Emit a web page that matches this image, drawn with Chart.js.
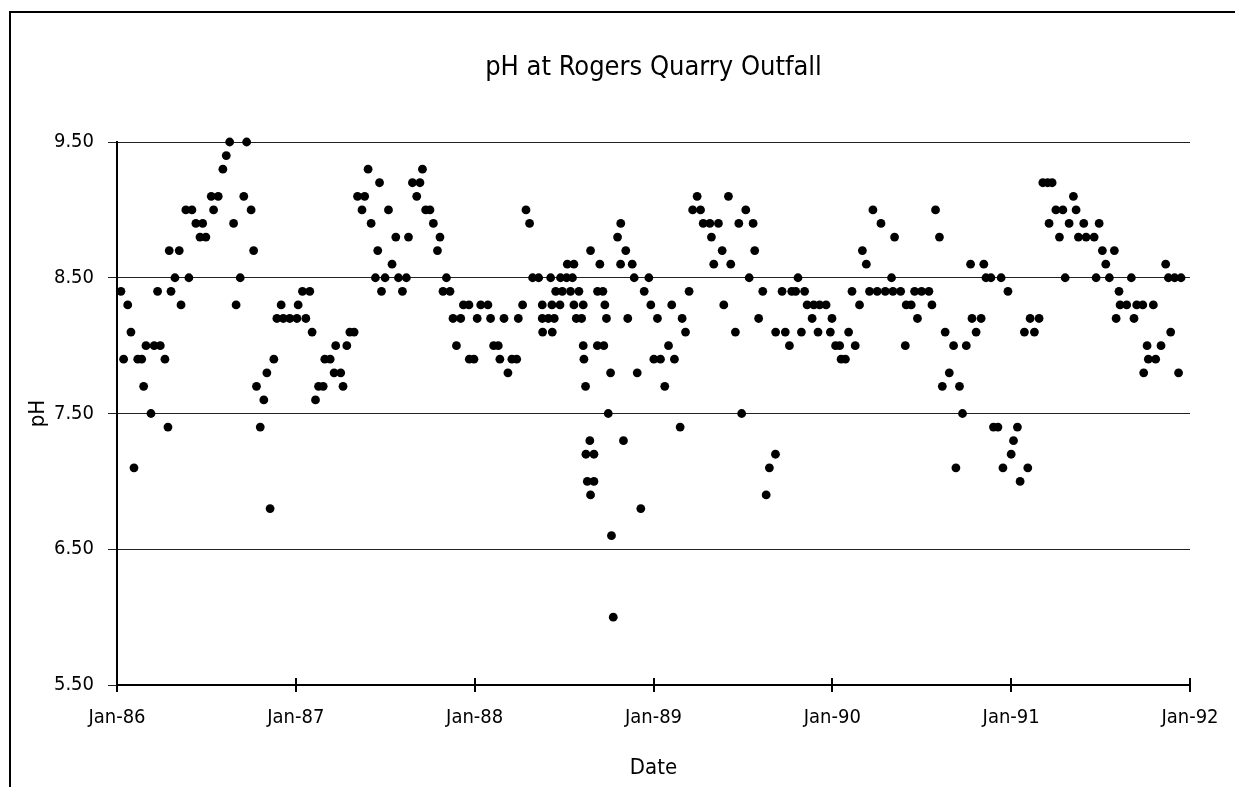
<!DOCTYPE html>
<html>
<head>
<meta charset="utf-8">
<title>pH at Rogers Quarry Outfall</title>
<script src="https://cdn.jsdelivr.net/npm/chart.js@4.4.0/dist/chart.umd.min.js"></script>
<style>
    html, body { margin: 0; padding: 0; background: #fff; }
    #wrap { position: relative; width: 1235px; height: 787px; overflow: hidden; }
    #frame {
        position: absolute; left: 9px; top: 11px; width: 1400px; height: 900px;
        border-left: 2px solid #000; border-top: 2px solid #000;
    }
    #mainChart { position: relative; }
</style>
</head>
<body>
<div id="wrap">
    <div id="frame"></div>
    <canvas id="mainChart" width="1235" height="787"></canvas>
</div>
<script>
// Sample readings: [fraction of the year, pH]
const ph1986 = [
    [0.022, 8.4], [0.037, 7.9], [0.060, 8.3], [0.078, 8.1], [0.095, 7.1], [0.116, 7.9],
    [0.138, 7.9], [0.149, 7.7], [0.162, 8.0], [0.190, 7.5], [0.208, 8.0], [0.227, 8.4],
    [0.242, 8.0], [0.268, 7.9], [0.285, 7.4], [0.292, 8.7], [0.302, 8.4], [0.324, 8.5],
    [0.348, 8.7], [0.358, 8.3], [0.385, 9.0], [0.402, 8.5], [0.419, 9.0], [0.441, 8.9],
    [0.464, 8.8], [0.479, 8.9], [0.497, 8.8], [0.527, 9.1], [0.540, 9.0], [0.566, 9.1],
    [0.592, 9.3], [0.611, 9.4], [0.630, 9.5], [0.652, 8.9], [0.666, 8.3], [0.689, 8.5],
    [0.709, 9.1], [0.725, 9.5], [0.750, 9.0], [0.764, 8.7], [0.780, 7.7], [0.801, 7.4],
    [0.821, 7.6], [0.838, 7.8], [0.856, 6.8], [0.877, 7.9], [0.894, 8.2], [0.918, 8.3],
    [0.930, 8.2], [0.966, 8.2]
];
const ph1987 = [
    [0.006, 8.2], [0.013, 8.3], [0.037, 8.4], [0.056, 8.2], [0.078, 8.4], [0.091, 8.1],
    [0.110, 7.6], [0.127, 7.7], [0.153, 7.7], [0.162, 7.9], [0.192, 7.9], [0.214, 7.8],
    [0.223, 8.0], [0.251, 7.8], [0.264, 7.7], [0.285, 8.0], [0.302, 8.1], [0.326, 8.1],
    [0.345, 9.1], [0.370, 9.0], [0.385, 9.1], [0.404, 9.3], [0.421, 8.9], [0.445, 8.5],
    [0.458, 8.7], [0.468, 9.2], [0.479, 8.4], [0.499, 8.5], [0.518, 9.0], [0.538, 8.6],
    [0.559, 8.8], [0.574, 8.5], [0.596, 8.4], [0.618, 8.5], [0.630, 8.8], [0.652, 9.2],
    [0.676, 9.1], [0.694, 9.2], [0.708, 9.3], [0.726, 9.0], [0.750, 9.0], [0.769, 8.9],
    [0.792, 8.7], [0.806, 8.8], [0.823, 8.4], [0.842, 8.5], [0.862, 8.4], [0.879, 8.2],
    [0.898, 8.0], [0.922, 8.2], [0.937, 8.3], [0.968, 8.3], [0.970, 7.9], [0.996, 7.9]
];
const ph1988 = [
    [0.014, 8.2], [0.034, 8.3], [0.074, 8.3], [0.089, 8.2], [0.106, 8.0], [0.132, 8.0],
    [0.141, 7.9], [0.164, 8.2], [0.186, 7.8], [0.208, 7.9], [0.235, 7.9], [0.244, 8.2],
    [0.268, 8.3], [0.287, 9.0], [0.307, 8.9], [0.324, 8.5], [0.358, 8.5], [0.378, 8.3],
    [0.378, 8.2], [0.380, 8.1], [0.412, 8.2], [0.425, 8.5], [0.432, 8.3], [0.434, 8.1],
    [0.445, 8.2], [0.453, 8.4], [0.477, 8.3], [0.480, 8.5], [0.490, 8.4], [0.514, 8.5],
    [0.518, 8.6], [0.536, 8.4], [0.547, 8.5], [0.555, 8.6], [0.555, 8.3], [0.568, 8.2],
    [0.583, 8.4], [0.598, 8.2], [0.607, 8.3], [0.607, 8.0], [0.611, 7.9], [0.620, 7.7],
    [0.622, 7.2], [0.630, 7.0], [0.644, 7.3], [0.648, 8.7], [0.648, 6.9], [0.667, 7.2],
    [0.667, 7.0], [0.686, 8.0], [0.687, 8.4], [0.700, 8.6], [0.717, 8.4], [0.722, 8.0],
    [0.728, 8.3], [0.737, 8.2], [0.747, 7.5], [0.760, 7.8], [0.765, 6.6], [0.775, 6.0],
    [0.799, 8.8], [0.816, 8.6], [0.817, 8.9], [0.832, 7.3], [0.845, 8.7], [0.856, 8.2],
    [0.881, 8.6], [0.892, 8.5], [0.909, 7.8], [0.929, 6.8], [0.948, 8.4], [0.974, 8.5],
    [0.985, 8.3]
];
const ph1989 = [
    [0.002, 7.9], [0.022, 8.2], [0.039, 7.9], [0.063, 7.7], [0.084, 8.0], [0.102, 8.3],
    [0.117, 7.9], [0.149, 7.4], [0.160, 8.2], [0.179, 8.1], [0.199, 8.4], [0.219, 9.0],
    [0.244, 9.1], [0.263, 9.0], [0.278, 8.9], [0.315, 8.9], [0.324, 8.8], [0.337, 8.6],
    [0.363, 8.9], [0.384, 8.7], [0.393, 8.3], [0.419, 9.1], [0.432, 8.6], [0.458, 8.1],
    [0.477, 8.9], [0.493, 7.5], [0.516, 9.0], [0.535, 8.5], [0.557, 8.9], [0.566, 8.7],
    [0.588, 8.2], [0.611, 8.4], [0.630, 6.9], [0.648, 7.1], [0.682, 7.2], [0.683, 8.1],
    [0.719, 8.4], [0.737, 8.1], [0.760, 8.0], [0.773, 8.4], [0.795, 8.4], [0.808, 8.5],
    [0.827, 8.1], [0.845, 8.4], [0.859, 8.3], [0.887, 8.2], [0.896, 8.3], [0.920, 8.1],
    [0.929, 8.3], [0.965, 8.3], [0.989, 8.1], [0.998, 8.2]
];
const ph1990 = [
    [0.018, 8.0], [0.041, 8.0], [0.049, 7.9], [0.073, 7.9], [0.091, 8.1], [0.110, 8.4],
    [0.128, 8.0], [0.152, 8.3], [0.168, 8.7], [0.190, 8.6], [0.208, 8.4], [0.227, 9.0],
    [0.251, 8.4], [0.272, 8.9], [0.296, 8.4], [0.331, 8.5], [0.339, 8.4], [0.348, 8.8],
    [0.382, 8.4], [0.408, 8.0], [0.413, 8.3], [0.441, 8.3], [0.460, 8.4], [0.476, 8.2],
    [0.499, 8.4], [0.540, 8.4], [0.557, 8.3], [0.577, 9.0], [0.599, 8.8], [0.615, 7.7],
    [0.631, 8.1], [0.654, 7.8], [0.678, 8.0], [0.691, 7.1], [0.711, 7.7], [0.728, 7.5],
    [0.749, 8.0], [0.773, 8.6], [0.781, 8.2], [0.804, 8.1], [0.832, 8.2], [0.847, 8.6],
    [0.859, 8.5], [0.887, 8.5], [0.901, 7.4], [0.926, 7.4], [0.944, 8.5], [0.954, 7.1],
    [0.982, 8.4]
];
const ph1991 = [
    [0.000, 7.2], [0.013, 7.3], [0.035, 7.4], [0.050, 7.0], [0.074, 8.1], [0.093, 7.1],
    [0.106, 8.2], [0.130, 8.1], [0.156, 8.2], [0.177, 9.2], [0.204, 9.2], [0.212, 8.9],
    [0.229, 9.2], [0.250, 9.0], [0.270, 8.8], [0.289, 9.0], [0.302, 8.5], [0.324, 8.9],
    [0.348, 9.1], [0.363, 9.0], [0.376, 8.8], [0.406, 8.9], [0.419, 8.8], [0.464, 8.8],
    [0.475, 8.5], [0.492, 8.9], [0.510, 8.7], [0.529, 8.6], [0.549, 8.5], [0.577, 8.7],
    [0.587, 8.2], [0.603, 8.4], [0.609, 8.3], [0.646, 8.3], [0.672, 8.5], [0.687, 8.2],
    [0.702, 8.3], [0.736, 8.3], [0.741, 7.8], [0.760, 8.0], [0.767, 7.9], [0.795, 8.3],
    [0.808, 7.9], [0.838, 8.0], [0.864, 8.6], [0.879, 8.5], [0.892, 8.1], [0.914, 8.5],
    [0.936, 7.8], [0.950, 8.5]
];

const sampleYears = [1986, 1987, 1988, 1989, 1990, 1991];
const yearlyReadings = [ph1986, ph1987, ph1988, ph1989, ph1990, ph1991];
const dateLabels = ['Jan-86', 'Jan-87', 'Jan-88', 'Jan-89', 'Jan-90', 'Jan-91', 'Jan-92'];

const points = [];
sampleYears.forEach((yr, i) => {
    yearlyReadings[i].forEach(([frac, ph]) => points.push({ x: yr + frac, y: ph }));
});

const displayFont = "'DejaVu Sans Condensed', 'DejaVu Sans', sans-serif";
const narrowFont = "'Liberation Sans Narrow', 'DejaVu Sans Condensed', sans-serif";

// short marks above the date axis so the ticks cross the line
const crossTicks = {
    id: 'crossTicks',
    afterDraw(chart) {
        const xs = chart.scales.x;
        const ctx = chart.ctx;
        ctx.save();
        ctx.strokeStyle = '#000';
        ctx.lineWidth = 2;
        xs.ticks.forEach(t => {
            const px = Math.round(xs.getPixelForValue(t.value));
            ctx.beginPath();
            ctx.moveTo(px, xs.top - 7);
            ctx.lineTo(px, xs.top);
            ctx.stroke();
        });
        ctx.restore();
    }
};

const ctx = document.getElementById('mainChart').getContext('2d');
new Chart(ctx, {
    type: 'scatter',
    data: {
        datasets: [{
            label: 'pH',
            data: points,
            backgroundColor: '#000',
            borderWidth: 0,
            pointRadius: 4.4,
            pointHoverRadius: 4.4,
            clip: false
        }]
    },
    options: {
        responsive: false,
        animation: false,
        layout: { padding: { left: 0, right: 45, top: 0, bottom: 0 } },
        plugins: {
            legend: { display: false },
            tooltip: { enabled: false },
            title: {
                display: true,
                text: 'pH at Rogers Quarry Outfall',
                fullSize: false,
                color: '#000',
                font: { family: displayFont, size: 27, weight: 'normal', lineHeight: 1.2 },
                padding: { top: 52, bottom: 57.6 }
            }
        },
        scales: {
            x: {
                type: 'linear',
                min: 1986,
                max: 1992,
                afterFit: s => { s.height = 102; },
                border: { display: true, color: '#000', width: 2 },
                grid: { drawOnChartArea: false, drawTicks: true, tickLength: 7, color: '#000', lineWidth: 2 },
                ticks: {
                    stepSize: 1,
                    maxRotation: 0,
                    padding: 14,
                    color: '#000',
                    font: { family: displayFont, size: 20 },
                    callback: v => dateLabels[Math.round(v - 1986)]
                },
                title: {
                    display: true,
                    text: 'Date',
                    color: '#000',
                    font: { family: displayFont, size: 22, lineHeight: 1.2 },
                    padding: { top: 0, bottom: 6 }
                }
            },
            y: {
                min: 5.5,
                max: 9.5,
                afterFit: s => { s.width = 117; },
                border: { display: true, color: '#000', width: 2 },
                grid: { color: '#222', lineWidth: 1, tickLength: 9 },
                ticks: {
                    stepSize: 1,
                    padding: 14,
                    color: '#000',
                    font: { family: narrowFont, size: 20 },
                    callback: v => v.toFixed(2)
                },
                title: {
                    display: true,
                    text: 'pH',
                    color: '#000',
                    font: { family: displayFont, size: 22, lineHeight: 1.2 },
                    padding: { top: 25, bottom: 0 }
                }
            }
        }
    },
    plugins: [crossTicks]
});
</script>
</body>
</html>
